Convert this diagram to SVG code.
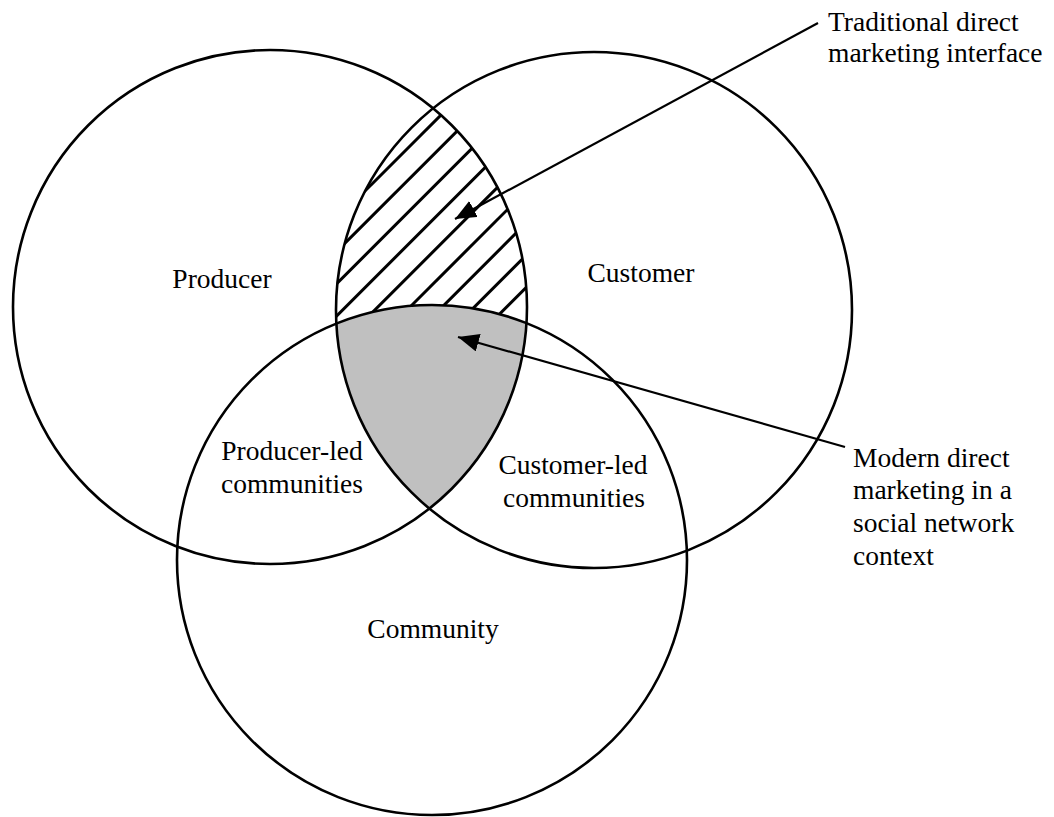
<svg xmlns="http://www.w3.org/2000/svg" width="1054" height="817" viewBox="0 0 1054 817">
  <style>
    .ring { fill: none; stroke: #000; stroke-width: 2.6; }
    .hatch { stroke: #000; stroke-width: 3; }
    .lbl { font-family: "Liberation Serif", "Times New Roman", serif; font-size: 27.5px; fill: #000; }
    .mid { text-anchor: middle; }
    .conn { stroke: #000; stroke-width: 2.2; fill: none; marker-end: url(#arrow); }
  </style>
  <defs>
    <clipPath id="clipP"><circle cx="270" cy="307" r="257"/></clipPath>
    <clipPath id="clipC"><circle cx="594" cy="310" r="258"/></clipPath>
    <marker id="arrow" markerUnits="userSpaceOnUse" markerWidth="24" markerHeight="20" refX="21" refY="9" orient="auto">
      <path d="M0,0 L21,9 L0,18 Z" fill="#000"/>
    </marker>
  </defs>
  <rect width="1054" height="817" fill="#fff"/>

  <g id="interface-region" clip-path="url(#clipP)">
    <g clip-path="url(#clipC)">
      <line class="hatch" x1="300" y1="256" x2="600" y2="-44"/>
      <line class="hatch" x1="300" y1="288.2" x2="600" y2="-11.8"/>
      <line class="hatch" x1="300" y1="320.4" x2="600" y2="20.4"/>
      <line class="hatch" x1="300" y1="352.6" x2="600" y2="52.6"/>
      <line class="hatch" x1="300" y1="384.8" x2="600" y2="84.8"/>
      <line class="hatch" x1="300" y1="417" x2="600" y2="117"/>
      <line class="hatch" x1="300" y1="449.2" x2="600" y2="149.2"/>
      <line class="hatch" x1="300" y1="481.4" x2="600" y2="181.4"/>
      <line class="hatch" x1="300" y1="513.6" x2="600" y2="213.6"/>
    </g>
  </g>

  <g id="modern-region" clip-path="url(#clipP)">
    <g clip-path="url(#clipC)">
      <circle cx="432" cy="560" r="255" fill="#c0c0c0"/>
    </g>
  </g>

  <g id="producer">
    <circle class="ring" cx="270" cy="307" r="257"/>
    <text class="lbl mid" x="222" y="288">Producer</text>
  </g>
  <g id="customer">
    <circle class="ring" cx="594" cy="310" r="258"/>
    <text class="lbl mid" x="641" y="282">Customer</text>
  </g>
  <g id="community">
    <circle class="ring" cx="432" cy="560" r="255"/>
    <text class="lbl mid" x="433" y="638">Community</text>
  </g>
  <g id="producer-led">
    <text class="lbl mid" x="292" y="460">Producer-led</text>
    <text class="lbl mid" x="292" y="493">communities</text>
  </g>
  <g id="customer-led">
    <text class="lbl mid" x="573" y="474">Customer-led</text>
    <text class="lbl mid" x="574" y="507">communities</text>
  </g>
  <g id="traditional-label">
    <text class="lbl" x="828" y="31">Traditional direct</text>
    <text class="lbl" x="828" y="62">marketing interface</text>
  </g>
  <g id="modern-label">
    <text class="lbl" x="853" y="467">Modern direct</text>
    <text class="lbl" x="853" y="499">marketing in a</text>
    <text class="lbl" x="853" y="532">social network</text>
    <text class="lbl" x="853" y="565">context</text>
  </g>

  <g id="connectors">
    <line class="conn" x1="818" y1="23" x2="455" y2="219"/>
    <line class="conn" x1="845" y1="447" x2="458" y2="337"/>
  </g>
</svg>
